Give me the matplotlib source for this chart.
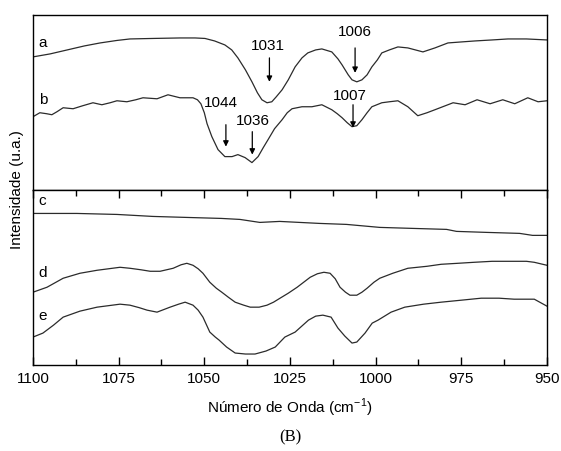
import numpy as np
import matplotlib
matplotlib.use('Agg')
import matplotlib.pyplot as plt

plt.rcParams['font.family'] = ['Liberation Sans', 'DejaVu Sans']

# espectros (numero de onda, intensidade em u.a.)
wn_a = [1100, 1095.0, 1090.0, 1085.0, 1080.4, 1075.5, 1071.7, 1065.0, 1057.1, 1052.7,
        1049.8, 1047.0, 1044.0, 1042.0, 1040.2, 1038.0, 1036.1, 1034.5, 1033.2, 1031.7,
        1030.3, 1029.0, 1027.3, 1025.5, 1023.5, 1021.5, 1019.8, 1017.5, 1015.7, 1012.8,
        1011.0, 1009.8, 1008.0, 1006.9, 1005.5, 1004.0, 1002.5, 1001.1, 999.5, 998.2,
        996.0, 993.5, 990.6, 986.2, 982.7, 978.9, 975.0, 971.0, 966.0, 961.4, 956.0, 950.0]
int_a = [133, 136, 140, 144, 147, 149.5, 151, 151.5, 152, 152,
         151.5, 149, 145, 140, 132, 120, 108, 97, 90, 87,
         88, 93, 100, 110, 123, 132, 137, 140, 141, 138,
         131, 125, 115, 110, 108, 110, 115, 123, 130, 137,
         140, 143, 142, 138, 142, 147, 148, 149, 150, 151, 151, 150]

wn_b = [1100, 1098.0, 1096.0, 1094.5, 1093.0, 1091.2, 1088.3, 1085.5, 1082.5, 1079.9,
        1077.5, 1075.5, 1072.6, 1070.0, 1067.9, 1063.8, 1060.6, 1057.1, 1055.0, 1053.3,
        1052.0, 1051.0, 1050.0, 1049.2, 1047.8, 1046.0, 1044.0, 1041.9, 1040.2, 1038.1,
        1036.1, 1034.3, 1032.8, 1031.4, 1029.5, 1027.3, 1025.8, 1024.4, 1021.5, 1018.6,
        1015.7, 1012.8, 1011.2, 1009.8, 1008.3, 1006.9, 1005.5, 1004.0, 1002.5, 1001.1,
        998.2, 996.0, 993.5, 990.6, 987.7, 985.0, 982.7, 977.4, 973.9, 970.4,
        966.6, 962.9, 959.4, 955.6, 952.6, 950.0]
int_b = [73, 77, 76, 75, 78, 82, 81, 84, 87, 85,
         87, 89, 88, 90, 92, 91, 95, 92, 92, 92,
         90, 86, 77, 66, 53, 40, 33, 33, 35, 32,
         27, 33, 42, 50, 61, 70, 77, 81, 83, 83,
         85, 80, 76, 72, 67, 63, 64, 70, 77, 83,
         87, 88, 89, 83, 74, 77, 80, 87, 85, 90,
         86, 90, 86, 92, 88, 89]

wn_c = [1100, 1087.2, 1075.5, 1065.0, 1055.1, 1045.0, 1039.6, 1033.8, 1028.0, 1016.4,
        1008.5, 998.8, 989.2, 979.3, 976.4, 967.7, 958.0, 954.2, 950.0]
int_c = [152, 152, 151, 149, 148, 147, 146, 143, 144, 142,
         141, 138, 137, 136, 134, 133, 132, 130, 130]

wn_d = [1100, 1095.9, 1091.2, 1086.3, 1081.3, 1074.6, 1071.7, 1068.5, 1065.8, 1062.9,
        1059.1, 1056.8, 1055.1, 1053.3, 1051.8, 1050.4, 1048.4, 1046.5, 1044.9, 1043.0,
        1041.0, 1038.5, 1036.6, 1034.0, 1031.7, 1029.8, 1027.9, 1025.5, 1022.9, 1019.1,
        1017.0, 1015.1, 1013.3, 1011.8, 1010.4, 1008.8, 1007.5, 1005.5, 1004.0, 1002.5,
        1000.5, 998.8, 995.0, 990.6, 985.0, 980.9, 976.0, 971.3, 966.0, 961.6,
        956.0, 953.7, 950.0]
int_d = [73, 78, 87, 92, 95, 98, 97, 95.5, 94, 94,
         97, 100.5, 102, 100, 96.5, 92, 83, 77, 73, 68,
         63, 60, 58, 58, 60, 63, 67, 72, 78, 88,
         91.5, 93, 92, 86.5, 78, 73, 70, 70, 73, 77,
         83, 87, 92, 97, 99, 101, 102, 103, 104, 104,
         104, 103, 100]

wn_e = [1100, 1097.1, 1094.0, 1091.2, 1086.3, 1081.3, 1074.6, 1071.7, 1069.0, 1066.7,
        1063.8, 1060.0, 1057.5, 1055.6, 1053.3, 1051.8, 1050.4, 1048.4, 1046.8, 1045.7,
        1043.5, 1041.0, 1038.0, 1035.2, 1032.0, 1029.3, 1026.5, 1023.5, 1019.6, 1017.5,
        1015.4, 1013.0, 1011.0, 1009.0, 1006.9, 1005.5, 1003.1, 1001.0, 999.3, 995.5,
        991.5, 986.0, 980.9, 975.0, 969.2, 964.0, 959.6, 953.7, 950.0]
int_e = [28, 32, 40, 48, 54, 58, 61, 60, 57.5, 55,
         53, 58, 61, 63, 60, 55, 48, 33, 28, 25,
         18, 12, 11, 11, 14, 18, 28, 33, 45, 49,
         50, 48, 37, 29, 22, 23, 32, 42, 45, 53,
         58, 61, 63, 65, 67, 67, 66, 66, 59]

# picos marcados (texto, posicao da seta, topo e ponta da seta, posicao do texto)
peak_txt = ['1031', '1006', '1044', '1036', '1007']
peak_wn = [1031, 1006, 1043.7, 1036, 1006.6]
arrow_from = [132, 142, 65, 58, 85]
arrow_to = [108, 117, 43, 35, 62]
txt_wn = [1031.4, 1006, 1045.1, 1035.7, 1007.4]
txt_y = [144, 158, 87, 69, 94]

cor = '#2b2b2b'

fig = plt.figure(figsize=(5.61, 4.51), dpi=100)
ax1 = fig.add_axes([0.0588, 0.5798, 0.9162, 0.3869])
ax2 = fig.add_axes([0.0588, 0.1907, 0.9162, 0.3891])

ax1.plot(wn_a, int_a, color=cor, lw=0.9)
ax1.plot(wn_b, int_b, color=cor, lw=0.9)
ax2.plot(wn_c, int_c, color=cor, lw=0.9)
ax2.plot(wn_d, int_d, color=cor, lw=0.9)
ax2.plot(wn_e, int_e, color=cor, lw=0.9)

ax1.set_ylim(0, 175)
ax2.set_ylim(0, 176)
for ax in (ax1, ax2):
    ax.set_xlim(1100, 950)
    ax.set_yticks([])
    for s in ax.spines.values():
        s.set_linewidth(1.0)

ax1.set_xticks([])
ax2.set_xticks([1100, 1075, 1050, 1025, 1000, 975, 950])
ax2.set_xticks(np.arange(1087.5, 950, -25), minor=True)
ax2.tick_params(axis='x', which='both', direction='in', top=True, bottom=True,
                labelsize=11, pad=5, width=1.0)
ax2.tick_params(axis='x', which='major', length=6)
ax2.tick_params(axis='x', which='minor', length=4)

# letras das curvas
ax1.text(1098.3, 147, 'a', fontsize=11, va='center', ha='left')
ax1.text(1098.3, 90, 'b', fontsize=11, va='center', ha='left')
ax2.text(1098.3, 164, 'c', fontsize=11, va='center', ha='left')
ax2.text(1098.3, 92, 'd', fontsize=11, va='center', ha='left')
ax2.text(1098.3, 49, 'e', fontsize=11, va='center', ha='left')

for t, w, y0, y1, tw, ty in zip(peak_txt, peak_wn, arrow_from, arrow_to, txt_wn, txt_y):
    ax1.annotate('', xy=(w, y1), xytext=(w, y0),
                 arrowprops=dict(arrowstyle='-|>', color='k', lw=0.9,
                                 mutation_scale=8, shrinkA=0, shrinkB=0))
    ax1.text(tw, ty, t, fontsize=11, ha='center', va='center')

ax2.set_xlabel(r'Número de Onda (cm$^{\mathregular{-1}}$)', fontsize=11, labelpad=8)
fig.text(0.030, 0.579, 'Intensidade (u.a.)', rotation=90, fontsize=11,
         ha='center', va='center')
fig.text(0.517, 0.031, '(B)', fontsize=12, ha='center', va='center',
         family='Liberation Serif')

fig.savefig('out.png', dpi=100)
